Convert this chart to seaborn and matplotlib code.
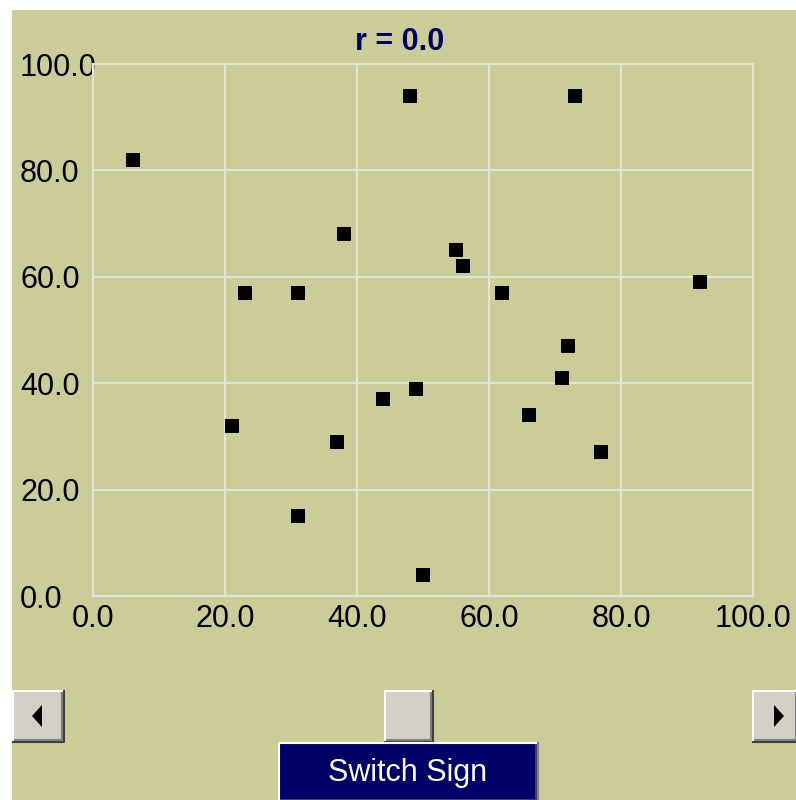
import seaborn as sns
import matplotlib.pyplot as plt
from matplotlib.patches import Rectangle, Polygon

# points
x_values = [6, 48, 73, 38, 55, 56, 23, 31, 62, 92, 72, 71, 49, 44, 66, 21, 37, 77, 31, 50]
y_values = [82, 94, 94, 68, 65, 62, 57, 57, 57, 59, 47, 41, 39, 37, 34, 32, 29, 27, 15, 4]
tick_values = [0, 20, 40, 60, 80, 100]
tick_labels = ["0.0", "20.0", "40.0", "60.0", "80.0", "100.0"]
title_text = "r = 0.0"
button_text = "Switch Sign"

KHAKI = "#CCCC99"
GRID = "#E4E4D4"
NAVY = "#000066"
BTN = "#D4D0C8"

sns.set_style("white")
plt.rcParams['font.family'] = ['Liberation Sans', 'DejaVu Sans']

fig = plt.figure(figsize=(7.96, 8), dpi=100, facecolor="white")

# overlay in pixel coords for the applet background and widgets
ui = fig.add_axes([0, 0, 1, 1], zorder=0)
ui.set_xlim(0, 796)
ui.set_ylim(800, 0)
ui.axis("off")
ui.add_patch(Rectangle((12, 10), 784, 790, color=KHAKI, lw=0))


def bevel(x0, y0, w, h, face, hi="white", lo="#808080", dark="#404040"):
    ui.add_patch(Rectangle((x0, y0), w, h, facecolor=face, lw=0))
    ui.plot([x0 + 1, x0 + 1, x0 + w - 1], [y0 + h - 1, y0 + 1, y0 + 1], color=hi, lw=1.5, solid_capstyle="butt")
    ui.plot([x0 + 2, x0 + w - 2, x0 + w - 2], [y0 + h - 2, y0 + h - 2, y0 + 2], color=lo, lw=1.5, solid_capstyle="butt")
    ui.plot([x0, x0 + w, x0 + w], [y0 + h, y0 + h, y0], color=dark, lw=1.5, solid_capstyle="butt")


# scrollbar
bevel(12, 690, 52, 52, BTN)
ui.add_patch(Polygon([[32, 716], [42, 705], [42, 727]], color="black", lw=0))
bevel(384, 690, 49, 52, BTN)
bevel(752, 690, 46, 52, BTN)
ui.add_patch(Polygon([[784, 716], [774, 705], [774, 727]], color="black", lw=0))

# button
bevel(278, 742, 260, 60, NAVY, hi="white", lo="#404060", dark="#808080")
ui.text(408, 773, button_text, color="white", fontsize=22, ha="center", va="center")

# scatter plot
ax = fig.add_axes([93 / 796, 204 / 800, 660 / 796, 532 / 800], zorder=2)
ax.set_facecolor("none")
sns.scatterplot(x=x_values, y=y_values, marker="s", s=100, color="black",
                linewidth=0, ax=ax, zorder=3)
ax.set_xlim(0, 100)
ax.set_ylim(0, 100)
ax.set_xticks(tick_values)
ax.set_yticks(tick_values)
ax.set_xticklabels(tick_labels)
ax.set_yticklabels(tick_labels, ha="left")
ax.grid(True, color=GRID, lw=1.5)
ax.set_axisbelow(True)
for sp in ax.spines.values():
    sp.set_color(GRID)
    sp.set_linewidth(1.5)
ax.tick_params(axis="both", length=0, labelsize=22, colors="black")
ax.tick_params(axis="x", pad=6)
ax.tick_params(axis="y", pad=52.5)

fig.text(400 / 796, 1 - 42 / 800, title_text, color=NAVY, fontsize=22,
         fontweight="bold", ha="center", va="center")

fig.savefig("out.png", dpi=100, facecolor="white")
